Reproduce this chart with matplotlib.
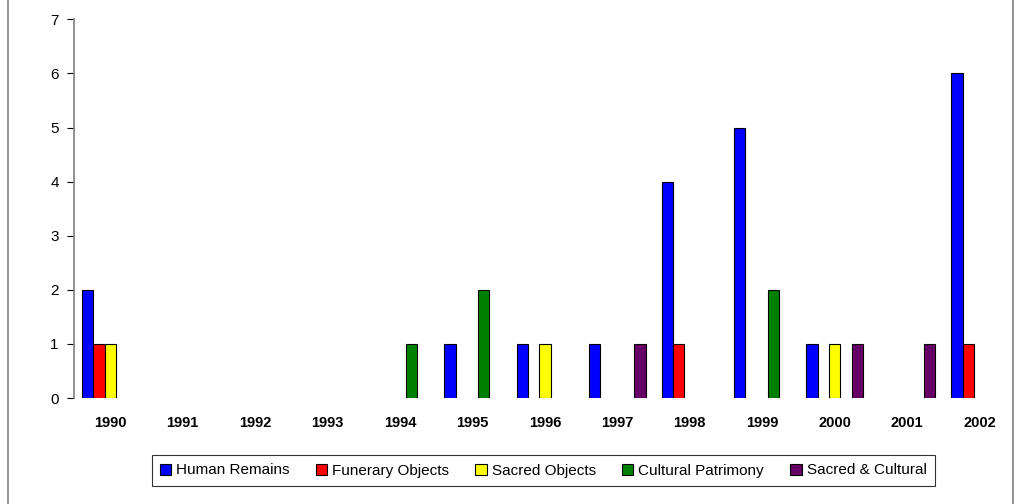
import matplotlib
matplotlib.use("Agg")
import matplotlib.pyplot as plt
from matplotlib.lines import Line2D
import numpy as np

years = ["1990", "1991", "1992", "1993", "1994", "1995", "1996",
         "1997", "1998", "1999", "2000", "2001", "2002"]
series_names = ["Human Remains", "Funerary Objects", "Sacred Objects",
                "Cultural Patrimony", "Sacred & Cultural"]
human_remains      = [2, 0, 0, 0, 0, 1, 1, 1, 4, 5, 1, 0, 6]
funerary_objects   = [1, 0, 0, 0, 0, 0, 0, 0, 1, 0, 0, 0, 1]
sacred_objects     = [1, 0, 0, 0, 0, 0, 1, 0, 0, 0, 1, 0, 0]
cultural_patrimony = [0, 0, 0, 0, 1, 2, 0, 0, 0, 2, 0, 0, 0]
sacred_cultural    = [0, 0, 0, 0, 0, 0, 0, 1, 0, 0, 1, 1, 0]
colors = ["#0000FF", "#FF0000", "#FFFF00", "#008000", "#660066"]

plt.rcParams['font.family'] = ['Liberation Sans', 'DejaVu Sans']

fig = plt.figure(figsize=(10.16, 5.04), dpi=100)
ax = fig.add_axes([74.1/1016, 106/504, (1015.7-74.1)/1016, (398-19.3)/504])

data = [human_remains, funerary_objects, sacred_objects,
        cultural_patrimony, sacred_cultural]
x = np.arange(len(years))
w = 0.156
for i, (vals, c, name) in enumerate(zip(data, colors, series_names)):
    vals = np.array(vals, dtype=float)
    offs = (i - 2) * w
    mask = vals > 0
    ax.bar(x[mask] + offs, vals[mask], width=w, color=c, edgecolor="black",
           linewidth=0.8, label=name)

ax.set_xlim(-0.5, len(years) - 0.5)
ax.set_ylim(0, 7)
ax.set_yticks(range(0, 8))
ax.set_xticks(x)
ax.set_xticklabels(years, fontweight="bold", fontsize=10.5)
ax.tick_params(axis="x", length=0, pad=13)
ax.tick_params(axis="y", length=5, width=0.8, labelsize=11, pad=6, direction="out")
for s in ["top", "right", "bottom"]:
    ax.spines[s].set_visible(False)
ax.spines["left"].set_color("#808080")
ax.spines["left"].set_linewidth(1.2)

leg = fig.legend(loc="center", bbox_to_anchor=(543.2/1016, 1 - 470.5/504),
                 ncol=5, frameon=True, fancybox=False, edgecolor="black",
                 fontsize=11, handlelength=0.75, handleheight=0.75,
                 handletextpad=0.33, columnspacing=1.7, borderpad=0.55)
leg.get_frame().set_linewidth(0.8)

fig.add_artist(Line2D([8.3/1016, 8.3/1016], [0, 1], color="#808080", lw=1.2))
fig.add_artist(Line2D([1012.5/1016, 1012.5/1016], [0, 1], color="#808080", lw=1.2))

fig.savefig("out.png", dpi=100)
